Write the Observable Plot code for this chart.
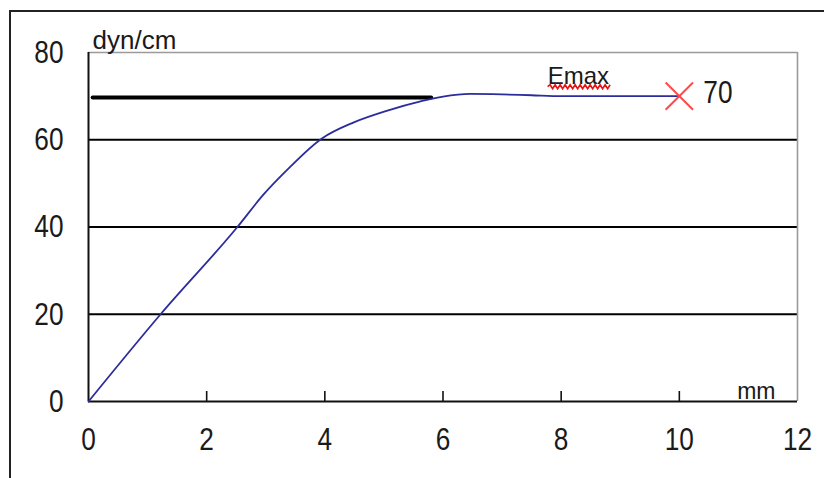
<!DOCTYPE html>
<html>
<head>
<meta charset="utf-8">
<script src="https://cdn.jsdelivr.net/npm/d3@7"></script>
<script src="https://cdn.jsdelivr.net/npm/@observablehq/plot@0.6"></script>
<style>
  html, body { margin: 0; padding: 0; background: #fff; }
</style>
</head>
<body>
<div id="chart"></div>
<script>
// ---- data ----
const xTicks = [0, 2, 4, 6, 8, 10, 12];
const yTicks = [0, 20, 40, 60, 80];
const gridValues = [20, 40, 60];
const curveX = [0, 1.22, 2.52, 2.96, 3.37, 3.95, 4.49, 5.06, 5.62, 6.0, 6.46, 7.0, 7.5, 8.0, 9.0, 10.0];
const curveY = [0, 20, 40, 47.4, 53.2, 60.3, 64, 66.7, 68.8, 69.9, 70.5, 70.4, 70.2, 70.0, 70.0, 70.0];
const refLineX = [0.07, 5.8];
const refLineY = [69.7, 69.7];
const emaxPoint = {x: 10, y: 70, label: "70"};
const emaxLabel = {x: 8.29, y: 74.6, text: "Emax"};
const yUnit = "dyn/cm";
const xUnit = "mm";

const curve = curveX.map((x, i) => ({x, y: curveY[i]}));
const refLine = refLineX.map((x, i) => ({x, y: refLineY[i]}));

const regular = "'Liberation Sans', Arial, sans-serif";

const chart = Plot.plot({
  width: 824,
  height: 478,
  marginLeft: 88,
  marginRight: 27,
  marginTop: 52,
  marginBottom: 77,
  x: {domain: [0, 12]},
  y: {domain: [0, 80]},
  style: {fontFamily: regular, fontSize: "32px", color: "#1a1a1a", background: "#fff"},
  marks: [
    Plot.ruleY(gridValues, {stroke: "#000", strokeWidth: 2}),
    Plot.ruleY([80], {stroke: "#9a9a9a", strokeWidth: 1.6}),
    Plot.ruleX([12], {stroke: "#9a9a9a", strokeWidth: 1.6}),
    Plot.ruleX(xTicks.slice(1, -1), {y1: 0, y2: 0, insetTop: -10, stroke: "#111", strokeWidth: 1.6}),
    Plot.ruleY([0], {stroke: "#111", strokeWidth: 2}),
    Plot.ruleX([0], {stroke: "#111", strokeWidth: 2}),
    Plot.line(refLine, {x: "x", y: "y", stroke: "#000", strokeWidth: 4}),
    Plot.line(curve, {x: "x", y: "y", stroke: "#2c2c9c", strokeWidth: 1.8, curve: "monotone-x"}),
    Plot.dot([emaxPoint], {x: "x", y: "y", symbol: "times", r: 12.5, stroke: "#ff4a4a", strokeWidth: 2}),
    Plot.text([emaxPoint], {x: "x", y: "y", text: "label", dx: 24, dy: -3, textAnchor: "start", fontSize: 32, className: "narrow"}),
    Plot.text([emaxLabel], {x: "x", y: "y", text: "text", fontSize: 24, className: "emax"}),
    Plot.text([yUnit], {frameAnchor: "top-left", text: d => d, dx: 4, dy: -4, textAnchor: "start", lineAnchor: "bottom", fontSize: 26}),
    Plot.text([xUnit], {frameAnchor: "bottom-right", text: d => d, dx: -22, dy: -3, textAnchor: "end", lineAnchor: "bottom", fontSize: 23}),
    Plot.axisX({ticks: xTicks, tickSize: 0, tickPadding: 26, label: null, fontSize: 32, className: "narrow"}),
    Plot.axisY({ticks: yTicks, tickSize: 0, tickPadding: 25, label: null, fontSize: 32, className: "narrow"})
  ]
});

document.getElementById("chart").appendChild(chart);

const svg = d3.select(chart);

// condensed look for numeric labels (scale horizontally about each anchor)
svg.selectAll(".narrow text").each(function() {
  const t = this.getAttribute("transform") || "";
  this.setAttribute("transform", t + " scale(0.82,1)");
});
svg.selectAll("text.narrow").each(function() {
  const t = this.getAttribute("transform") || "";
  this.setAttribute("transform", t + " scale(0.82,1)");
});

// red wavy "spell-check" underline under the Emax label
svg.selectAll(".emax text").each(function() {
  const b = this.getBBox();
  const ctm = this.getCTM();
  const x0 = b.x * ctm.a + ctm.e, x1 = (b.x + b.width) * ctm.a + ctm.e;
  const y = (b.y + b.height) * ctm.d + ctm.f - 2;
  let d = `M${x0},${y}`;
  for (let x = x0, up = true; x < x1; x += 2.5, up = !up) d += `L${x + 2.5},${y + (up ? -2 : 2)}`;
  svg.append("path").attr("d", d).attr("fill", "none").attr("stroke", "#e81010").attr("stroke-width", 1.6);
});

// outer chart-area frame
svg.insert("rect", ":first-child")
  .attr("x", 10).attr("y", 11).attr("width", 1000).attr("height", 1000)
  .attr("fill", "none").attr("stroke", "#222").attr("stroke-width", 2);
</script>
</body>
</html>
